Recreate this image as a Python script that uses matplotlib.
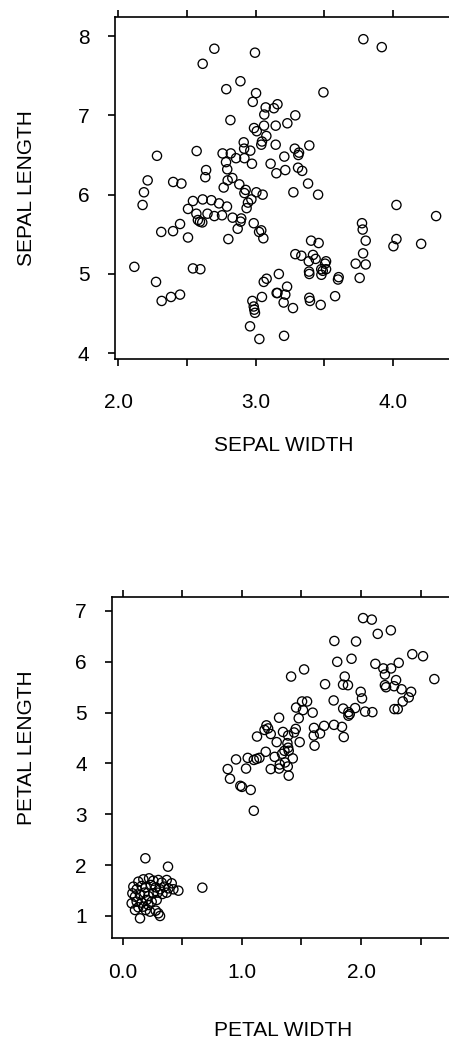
import matplotlib
matplotlib.use("Agg")
import matplotlib.pyplot as plt
from matplotlib.ticker import FixedLocator, FixedFormatter

plt.rcParams['font.family'] = ['Liberation Sans', 'DejaVu Sans']

# --- Top panel: sepal width (x) vs sepal length (y) ---
sepal_width = [
    3.786, 3.92, 2.70, 2.996, 2.615, 2.89, 2.787, 3.495, 3.004, 2.98,
    3.16, 3.074, 3.134, 3.064, 3.29, 2.817, 3.232, 3.062, 3.147, 2.989,
    3.009, 3.079, 3.047, 2.914, 3.042, 3.147, 3.392, 3.286, 2.917, 2.962,
    2.571, 3.317, 2.76, 2.82, 3.312, 2.282, 3.21, 2.858, 2.919, 2.785,
    2.974, 3.11, 3.31, 2.794, 2.64, 3.217, 3.34, 3.152, 2.634, 2.831,
    2.214, 2.797, 2.40, 2.46, 3.383, 2.882, 2.768, 2.928, 2.187, 3.276,
    3.006, 2.919, 3.052, 3.456, 2.97, 2.544, 2.615, 2.678, 2.734, 2.945,
    4.027, 2.177, 2.792, 2.935, 2.508, 2.569, 2.65, 2.70, 2.756, 4.316,
    2.833, 2.896, 2.58, 2.595, 2.612, 2.891, 2.987, 3.776, 2.45, 3.781,
    2.87, 2.313, 2.399, 3.026, 3.042, 2.508, 3.057, 2.802, 3.405, 3.46,
    3.803, 4.027, 4.005, 4.207, 3.29, 3.334, 3.419, 3.784, 3.438, 3.514,
    3.388, 3.507, 3.73, 3.803, 3.479, 3.514, 3.49, 3.39, 3.392, 3.48,
    2.117, 2.544, 2.598, 3.17, 3.606, 3.601, 3.759, 3.081, 3.06, 2.275,
    3.23, 3.154, 3.16, 3.217, 3.047, 3.58, 2.45, 2.384, 2.316, 3.392,
    3.397, 2.977, 3.205, 3.475, 3.273, 2.987, 2.991, 2.996, 2.96, 3.208,
    3.028,
]
sepal_length = [
    7.96, 7.86, 7.84, 7.79, 7.65, 7.43, 7.33, 7.29, 7.28, 7.17,
    7.14, 7.10, 7.09, 7.01, 7.00, 6.94, 6.90, 6.87, 6.87, 6.84,
    6.80, 6.74, 6.67, 6.66, 6.63, 6.63, 6.62, 6.58, 6.58, 6.555,
    6.55, 6.53, 6.52, 6.52, 6.50, 6.49, 6.48, 6.46, 6.46, 6.41,
    6.39, 6.39, 6.34, 6.32, 6.31, 6.31, 6.30, 6.27, 6.22, 6.21,
    6.18, 6.18, 6.16, 6.14, 6.14, 6.13, 6.09, 6.06, 6.03, 6.03,
    6.03, 6.02, 6.00, 6.00, 5.94, 5.92, 5.94, 5.93, 5.89, 5.90,
    5.87, 5.87, 5.85, 5.83, 5.82, 5.76, 5.76, 5.73, 5.74, 5.73,
    5.71, 5.70, 5.68, 5.66, 5.65, 5.66, 5.64, 5.64, 5.63, 5.56,
    5.57, 5.53, 5.54, 5.53, 5.55, 5.46, 5.45, 5.44, 5.42, 5.39,
    5.42, 5.44, 5.35, 5.38, 5.25, 5.23, 5.24, 5.26, 5.19, 5.16,
    5.16, 5.13, 5.13, 5.12, 5.06, 5.06, 5.04, 5.03, 5.00, 4.99,
    5.09, 5.07, 5.06, 5.00, 4.96, 4.93, 4.95, 4.94, 4.90, 4.90,
    4.84, 4.76, 4.76, 4.74, 4.71, 4.72, 4.74, 4.71, 4.66, 4.70,
    4.66, 4.66, 4.64, 4.61, 4.57, 4.59, 4.55, 4.51, 4.34, 4.22,
    4.18,
]

# --- Bottom panel: petal width (x) vs petal length (y) ---
petal_width = [
    2.017, 2.09, 2.14, 2.25, 1.776, 1.958, 1.80, 1.92, 2.43, 2.52,
    2.12, 2.316, 2.187, 2.252, 1.522, 1.413, 1.863, 2.20, 2.615, 2.294,
    1.698, 1.849, 1.89, 2.20, 2.21, 2.277, 2.34, 1.997, 2.42, 2.40,
    2.008, 2.35, 1.77, 1.505, 1.547, 1.455, 1.513, 1.85, 1.95, 1.594,
    1.894, 1.905, 1.894, 2.034, 2.095, 2.28, 2.308, 1.477, 1.312, 1.605,
    1.69, 1.773, 1.84, 1.206, 1.22, 1.19, 1.452, 1.438, 1.345, 1.242,
    1.656, 1.603, 1.127, 1.388, 1.855, 1.485, 1.61, 1.292, 1.382, 1.388,
    1.357, 1.393, 1.20, 1.337, 1.275, 1.427, 1.049, 1.10, 1.124, 1.147,
    0.951, 1.362, 1.035, 1.242, 1.312, 1.385, 1.318, 0.881, 1.393, 0.90,
    0.987, 1.00, 1.074, 1.10,
    # setosa cluster
    0.19, 0.38, 0.668,
    0.131, 0.173, 0.221, 0.257, 0.299, 0.327, 0.369, 0.411,
    0.089, 0.117, 0.159, 0.193, 0.237, 0.277, 0.313, 0.349, 0.383, 0.425, 0.467,
    0.081, 0.103, 0.145, 0.182, 0.215, 0.257, 0.293, 0.333, 0.369,
    0.075, 0.117, 0.159, 0.201, 0.243, 0.285, 0.215, 0.173, 0.131,
    0.103, 0.193, 0.229, 0.277, 0.299, 0.145, 0.313,
]
petal_length = [
    6.86, 6.83, 6.55, 6.62, 6.41, 6.40, 6.00, 6.06, 6.15, 6.11,
    5.96, 5.98, 5.87, 5.87, 5.85, 5.71, 5.71, 5.75, 5.66, 5.64,
    5.56, 5.55, 5.54, 5.54, 5.50, 5.52, 5.46, 5.41, 5.41, 5.30,
    5.28, 5.22, 5.24, 5.22, 5.22, 5.10, 5.05, 5.08, 5.09, 5.00,
    5.01, 4.97, 4.94, 5.02, 5.01, 5.07, 5.07, 4.89, 4.90, 4.70,
    4.74, 4.76, 4.72, 4.75, 4.69, 4.66, 4.68, 4.61, 4.62, 4.58,
    4.59, 4.55, 4.53, 4.55, 4.52, 4.42, 4.35, 4.42, 4.40, 4.31,
    4.25, 4.25, 4.23, 4.19, 4.13, 4.10, 4.11, 4.07, 4.09, 4.11,
    4.08, 4.02, 3.90, 3.89, 3.90, 3.94, 3.98, 3.89, 3.76, 3.70,
    3.56, 3.54, 3.48, 3.07,
    # setosa cluster
    2.135, 1.97, 1.557,
    1.675, 1.721, 1.741, 1.695, 1.708, 1.656, 1.708, 1.643,
    1.577, 1.525, 1.590, 1.564, 1.610, 1.564, 1.525, 1.577, 1.544, 1.525, 1.498,
    1.446, 1.380, 1.413, 1.459, 1.393, 1.446, 1.459, 1.433, 1.459,
    1.249, 1.282, 1.262, 1.315, 1.282, 1.315, 1.216, 1.184, 1.171,
    1.118, 1.118, 1.085, 1.105, 1.053, 0.954, 1.000,
]

top_xticks = [2.0, 2.5, 3.0, 3.5, 4.0]
top_xlabels = ["2.0", "", "3.0", "", "4.0"]
top_yticks = [4, 5, 6, 7, 8]
bot_xticks = [0.0, 0.5, 1.0, 1.5, 2.0, 2.5]
bot_xlabels = ["0.0", "", "1.0", "", "2.0", ""]
bot_yticks = [1, 2, 3, 4, 5, 6, 7]

W, H = 449, 1039
fig = plt.figure(figsize=(W / 100, H / 100), dpi=100)

FS = 15


def style(ax, xt, xl, yt, xlim, ylim, xlabel, ylabel, xpad, ypad,
          xlab_px, ylab_px):
    ax.set_xlim(*xlim)
    ax.set_ylim(*ylim)
    ax.spines['right'].set_visible(False)
    for s in ['left', 'bottom', 'top']:
        ax.spines[s].set_linewidth(1.2)
    ax.xaxis.set_major_locator(FixedLocator(xt))
    ax.xaxis.set_major_formatter(FixedFormatter(xl))
    ax.yaxis.set_major_locator(FixedLocator(yt))
    ax.set_yticklabels([str(v) for v in yt])
    ax.tick_params(axis='x', which='both', direction='out', length=5, width=1.2,
                   top=True, bottom=True, labeltop=False, labelsize=FS, pad=xpad)
    ax.tick_params(axis='y', which='both', direction='out', length=5, width=1.2,
                   left=True, right=False, labelsize=FS, pad=ypad)
    ax.set_xlabel(xlabel, fontsize=FS)
    ax.set_ylabel(ylabel, fontsize=FS)
    ax.xaxis.set_label_coords(xlab_px[0] / W, 1 - xlab_px[1] / H,
                              transform=fig.transFigure)
    ax.yaxis.set_label_coords(ylab_px[0] / W, 1 - ylab_px[1] / H,
                              transform=fig.transFigure)


ax1 = fig.add_axes([115 / W, (H - 359) / H, (W - 115) / W, (359 - 17) / H])
ax1.scatter(sepal_width, sepal_length, s=44, facecolors='none',
            edgecolors='black', linewidths=0.95, clip_on=False)
style(ax1, top_xticks, top_xlabels, top_yticks, (1.976, 4.41), (3.928, 8.24),
      "SEPAL WIDTH", "SEPAL LENGTH", 19.5, 13.5, (284, 436), (36.5, 188))

ax2 = fig.add_axes([112 / W, (H - 938) / H, (W - 112) / W, (938 - 597) / H])
ax2.scatter(petal_width, petal_length, s=44, facecolors='none',
            edgecolors='black', linewidths=0.95, clip_on=False)
style(ax2, bot_xticks, bot_xlabels, bot_yticks, (-0.09, 2.738), (0.567, 7.275),
      "PETAL WIDTH", "PETAL LENGTH", 13, 13, (283, 1021), (36.5, 748))

fig.savefig("out.png", dpi=100)
